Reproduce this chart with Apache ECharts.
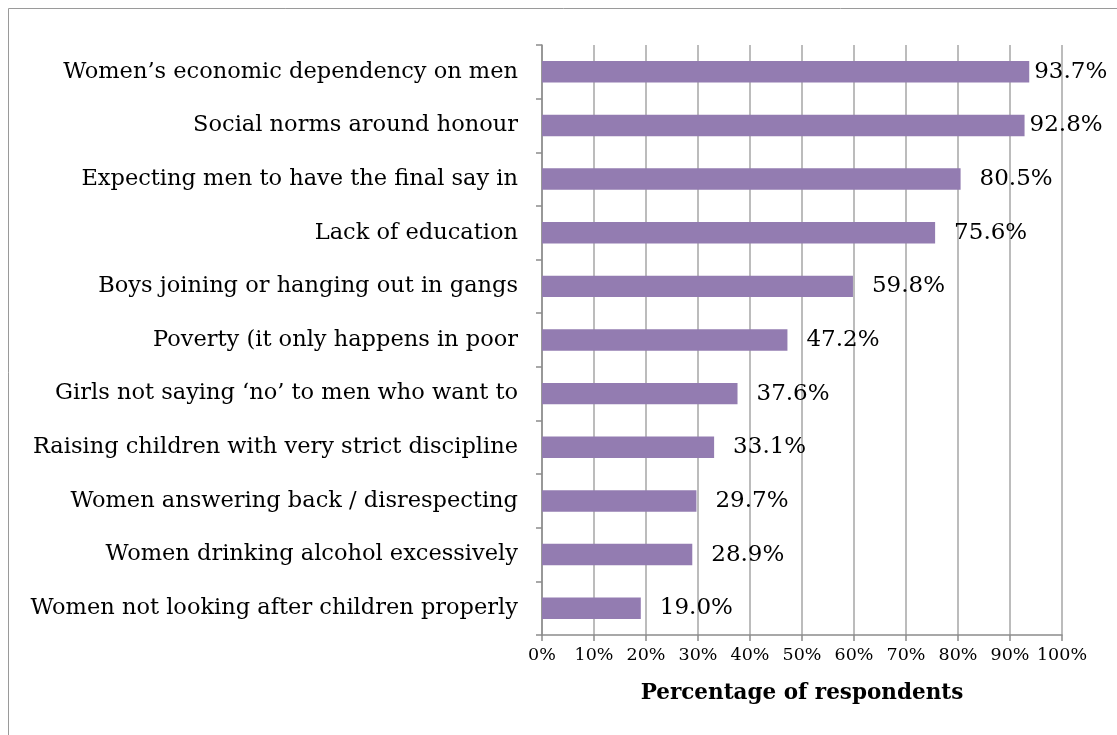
<!DOCTYPE html>
<html>
<head>
<meta charset="utf-8">
<script src="https://cdn.jsdelivr.net/npm/echarts@6/dist/echarts.min.js"></script>
<style>
  html, body { margin: 0; padding: 0; background: #fff; }
  #chart { width: 1117px; height: 735px; }
</style>
</head>
<body>
<div id="chart"></div>
<script>
// Perceived causes, ordered from most to least cited
const categories = [
  "Women\u2019s economic dependency on men",
  "Social norms around honour",
  "Expecting men to have the final say in",
  "Lack of education",
  "Boys joining or hanging out in gangs",
  "Poverty (it only happens in poor",
  "Girls not saying \u2018no\u2019 to men who want to",
  "Raising children with very strict discipline",
  "Women answering back / disrespecting",
  "Women drinking alcohol excessively",
  "Women not looking after children properly"
];
const values = [93.7, 92.8, 80.5, 75.6, 59.8, 47.2, 37.6, 33.1, 29.7, 28.9, 19.0];
const xTicks = [0, 10, 20, 30, 40, 50, 60, 70, 80, 90, 100];
const axisTitle = "Percentage of respondents";

const serif = "'DejaVu Serif', 'Liberation Serif', serif";
const chart = echarts.init(document.getElementById('chart'), null, { renderer: 'canvas' });

// labels near the right edge sit closer to their bars
const barData = values.map(v => ({
  value: v,
  label: { distance: v > 90 ? 5 : 19 }
}));

chart.setOption({
  animation: false,
  graphic: [{
    type: 'rect',
    shape: { x: 8.5, y: 8.5, width: 1130, height: 760 },
    style: { fill: 'none', stroke: '#9a9a9a', lineWidth: 1 },
    silent: true
  }],
  grid: { left: 542, right: 55, top: 45, bottom: 100, containLabel: false },
  xAxis: {
    type: 'value',
    min: xTicks[0],
    max: xTicks[xTicks.length - 1],
    interval: 10,
    name: axisTitle,
    nameLocation: 'middle',
    nameGap: 47,
    nameTextStyle: { fontFamily: serif, fontWeight: 'bold', fontSize: 21.5, color: '#000' },
    axisLine: { show: true, lineStyle: { color: '#8c8c8c', width: 1.5 } },
    axisTick: { show: true, length: 6, lineStyle: { color: '#8c8c8c', width: 1.5 } },
    axisLabel: {
      fontFamily: serif, fontSize: 17.5, color: '#000', margin: 11,
      formatter: v => v + '%'
    },
    splitLine: { show: true, lineStyle: { color: '#a6a6a6', width: 1.5 } }
  },
  yAxis: {
    type: 'category',
    data: categories,
    inverse: true,
    axisLine: { show: true, lineStyle: { color: '#8c8c8c', width: 1.5 } },
    axisTick: { show: true, length: 6, lineStyle: { color: '#8c8c8c', width: 1.5 } },
    axisLabel: { fontFamily: serif, fontSize: 22.5, color: '#000', margin: 24 },
    splitLine: { show: false }
  },
  series: [{
    type: 'bar',
    data: barData,
    barWidth: '40%',
    itemStyle: { color: '#937cb1' },
    label: {
      show: true,
      position: 'right',
      fontFamily: serif,
      fontSize: 23,
      color: '#000',
      formatter: p => p.value.toFixed(1) + '%'
    }
  }]
});
</script>
</body>
</html>
